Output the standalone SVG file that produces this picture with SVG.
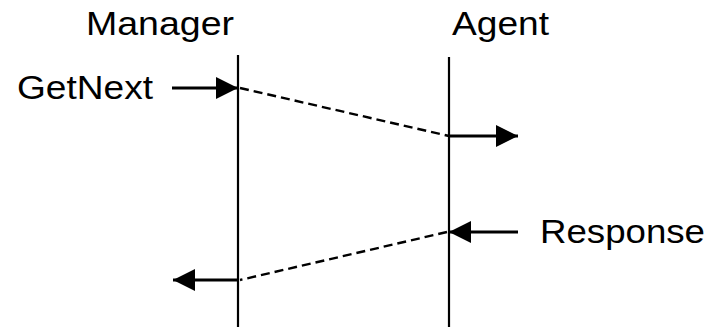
<svg xmlns="http://www.w3.org/2000/svg" width="717" height="327" viewBox="0 0 717 327">
<style>
text{font-family:"Liberation Sans",Arial,sans-serif;font-size:33px;fill:#000}
.life{stroke:#000;stroke-width:2.2;fill:none}
.arr{stroke:#000;stroke-width:2.8;fill:none;marker-end:url(#ah)}
.dash{stroke:#000;stroke-width:2.4;fill:none;stroke-dasharray:9 5}
</style>
<defs>
<marker id="ah" markerUnits="userSpaceOnUse" markerWidth="22" markerHeight="22" refX="22" refY="11" orient="auto">
<path d="M0,0 L22,11 L0,22 z" fill="#000"/>
</marker>
</defs>
<rect width="717" height="327" fill="#fff"/>
<g id="manager">
<text x="86" y="35" textLength="148" lengthAdjust="spacingAndGlyphs">Manager</text>
<line class="life" x1="238" y1="55" x2="238" y2="327"/>
</g>
<g id="agent">
<text x="452" y="35" textLength="97" lengthAdjust="spacingAndGlyphs">Agent</text>
<line class="life" x1="449" y1="57" x2="449" y2="327"/>
</g>
<g id="getnext">
<text x="17" y="99" textLength="136" lengthAdjust="spacingAndGlyphs">GetNext</text>
</g>
<g id="response">
<text x="540" y="243" textLength="165" lengthAdjust="spacingAndGlyphs">Response</text>
</g>
<g id="connectors">
<line class="arr" x1="172" y1="88" x2="238" y2="88"/>
<line class="dash" x1="240" y1="88" x2="449" y2="136"/>
<line class="arr" x1="449" y1="136" x2="518" y2="136"/>
<line class="arr" x1="518" y1="232" x2="449" y2="232"/>
<line class="dash" x1="447" y1="232" x2="240" y2="280"/>
<line class="arr" x1="238" y1="280" x2="173" y2="280"/>
</g>
</svg>
